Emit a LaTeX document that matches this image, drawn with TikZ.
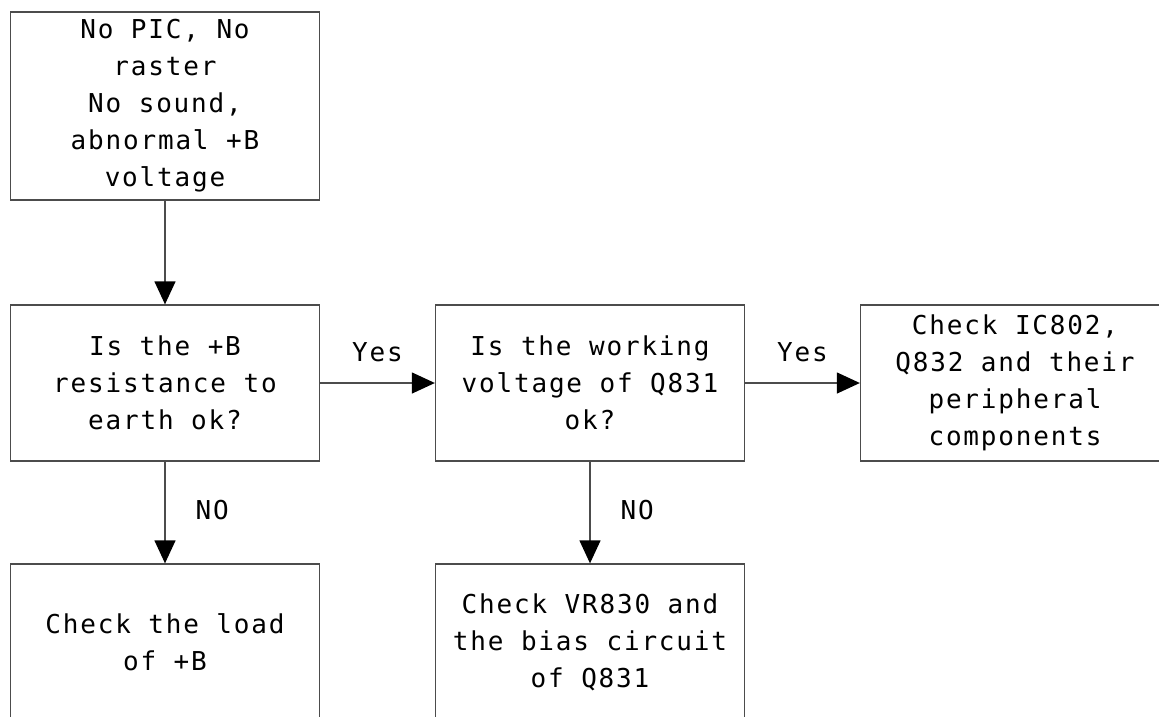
\documentclass[tikz,border=0pt]{standalone}
\usepackage{fontspec}
\setmonofont[LetterSpace=7]{DejaVu Sans Mono}
\usetikzlibrary{arrows.meta}

\begin{document}
\begin{tikzpicture}[x=1pt, y=-1pt,
    box/.style={draw=black!70, line width=1.3pt, minimum width=309pt, minimum height=156pt,
        inner sep=0pt, align=center, font=\ttfamily\fontsize{26}{37}\selectfont},
    flow/.style={draw=black!70, line width=1.3pt, -{Triangle[length=23pt, width=21pt, color=black]}},
    lbl/.style={font=\ttfamily\fontsize{26}{37}\selectfont, inner sep=0pt}]
    % Frame
    \fill[white] (0,0) rectangle (1159,716);
    \clip (0,0) rectangle (1159,716);

    % Boxes
    \node[box, minimum height=188pt] (start) at (165,106) {No PIC, No\\raster\\No sound,\\abnormal +B\\voltage};
    \node[box] (earth) at (165,383) {Is the +B\\resistance to\\earth ok?};
    \node[box] (work) at (590,383) {Is the working\\voltage of Q831\\ok?};
    \node[box] (ic) at (1015,383) {Check IC802,\\Q832 and their\\peripheral\\components};
    \node[box] (load) at (165,642) {Check the load\\of +B};
    \node[box] (bias) at (590,642) {Check VR830 and\\the bias circuit\\of Q831};

    % Arrows
    \draw[flow] (start) -- (earth);
    \draw[flow] (earth) -- node[lbl, above=20pt] {Yes} (work);
    \draw[flow] (work) -- node[lbl, above=20pt] {Yes} (ic);
    \draw[flow] (earth) -- node[lbl, right=30pt, yshift=2pt] {NO} (load);
    \draw[flow] (work) -- node[lbl, right=30pt, yshift=2pt] {NO} (bias);
\end{tikzpicture}
\end{document}
